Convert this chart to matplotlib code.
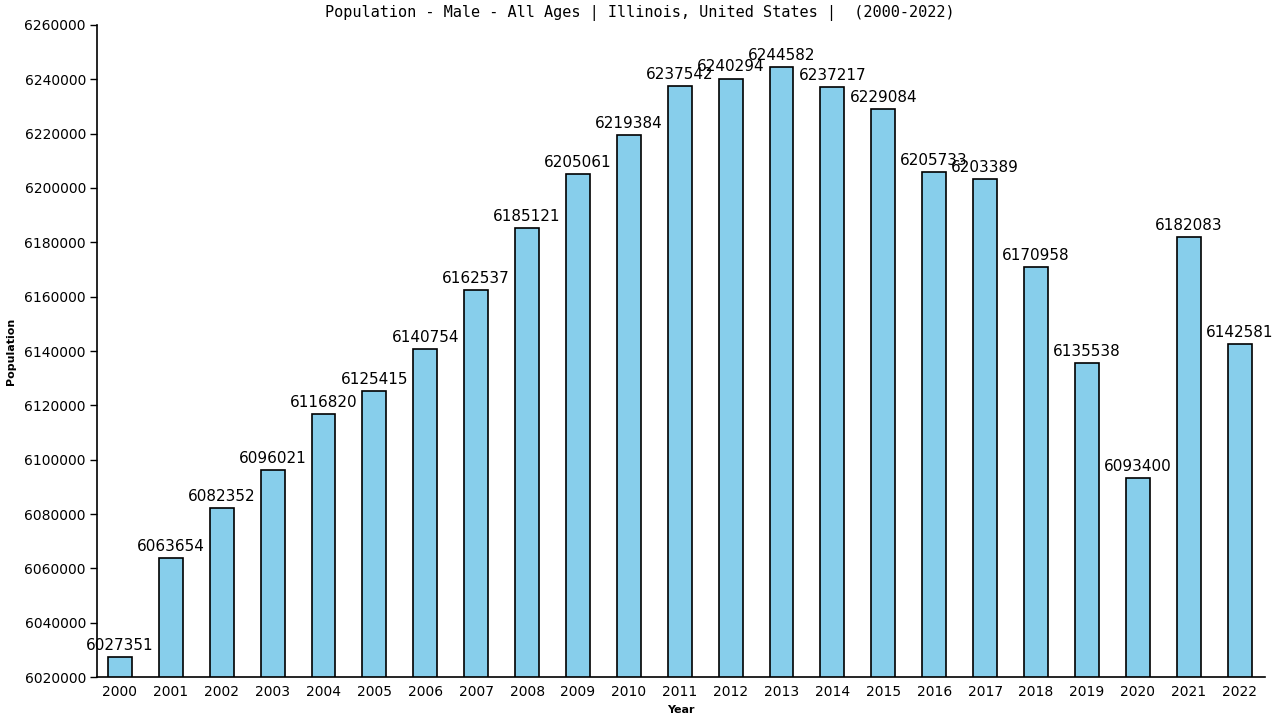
import matplotlib
matplotlib.use('Agg')
import matplotlib.pyplot as plt

years = [str(y) for y in range(2000, 2023)]
population = [6027351, 6063654, 6082352, 6096021, 6116820, 6125415, 6140754, 6162537,
              6185121, 6205061, 6219384, 6237542, 6240294, 6244582, 6237217, 6229084,
              6205733, 6203389, 6170958, 6135538, 6093400, 6182083, 6142581]
yticks = list(range(6020000, 6260001, 20000))

fig = plt.figure(figsize=(12.8, 7.2), dpi=100)
ax = fig.add_axes([0.0758, 0.0597, 0.9125, 0.9056])

x = range(len(years))
ax.bar(x, population, width=0.47, color='#87ceeb', edgecolor='black', linewidth=1.2)

for i, v in enumerate(population):
    ax.text(i, v + 1500, str(v), ha='center', va='bottom', fontsize=11,
            family='DejaVu Sans')

ax.set_xlim(-0.45, len(years) - 0.5)
ax.set_ylim(6020000, 6260000)
ax.set_xticks(list(x))
ax.set_xticklabels(years, fontsize=10)
ax.set_yticks(yticks)
ax.set_yticklabels([str(t) for t in yticks], fontsize=10)
ax.tick_params(axis='x', length=0, pad=6)
ax.tick_params(axis='y', length=5, width=1, pad=3)

for s in ['top', 'right']:
    ax.spines[s].set_visible(False)
for s in ['left', 'bottom']:
    ax.spines[s].set_linewidth(1.2)

ax.set_xlabel('Year', fontsize=8, fontweight='bold', labelpad=4)
ax.set_ylabel('Population', fontsize=8, fontweight='bold', labelpad=6)
fig.text(0.5, 0.982, 'Population - Male - All Ages | Illinois, United States |  (2000-2022)',
         ha='center', va='center', fontsize=11, family='DejaVu Sans Mono')

fig.savefig('out.png', dpi=100)
